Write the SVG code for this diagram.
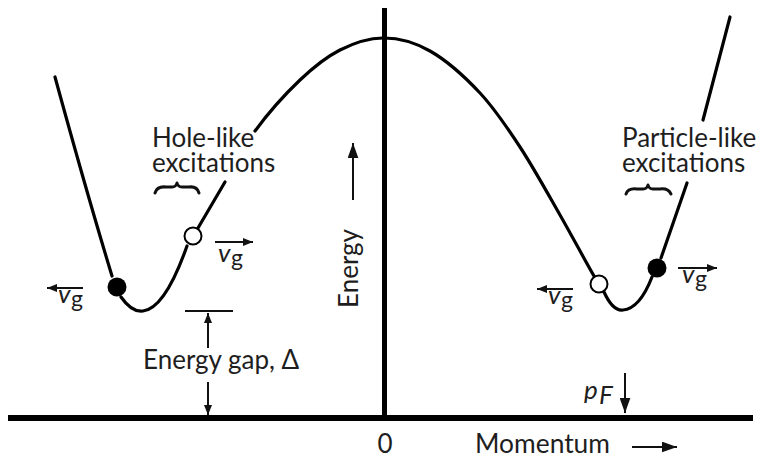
<svg xmlns="http://www.w3.org/2000/svg" width="761" height="459" viewBox="0 0 761 459">
<style>
.t{font-family:Lato,"Open Sans","DejaVu Sans",sans-serif;font-size:26px;fill:#1e1e1e}
.v{font-family:Lato,"Open Sans","DejaVu Sans",sans-serif;font-style:italic;font-size:26px;fill:#1e1e1e}
.g{font-family:Lato,"Open Sans","DejaVu Sans",sans-serif;font-size:23px;fill:#1e1e1e}
.c{fill:none;stroke:#000;stroke-width:3.2;stroke-linecap:round}
.a{fill:none;stroke:#111;stroke-width:2}
.b{fill:none;stroke:#111;stroke-width:3;stroke-linecap:round;stroke-linejoin:round}
</style>
<defs>
<marker id="ah" viewBox="0 0 10 8" refX="10" refY="4" markerWidth="11" markerHeight="8" markerUnits="userSpaceOnUse" orient="auto">
<path d="M0,0 L10,4 L0,8 Z" fill="#111"/>
</marker>
<marker id="ahL" viewBox="0 0 14 10" refX="14" refY="5" markerWidth="15" markerHeight="11" markerUnits="userSpaceOnUse" orient="auto">
<path d="M0,0 L14,5 L0,10 Z" fill="#111"/>
</marker>
</defs>
<rect width="761" height="459" fill="#fff"/>

<g id="axes">
<line x1="8" y1="418" x2="753" y2="418" stroke="#000" stroke-width="6"/>
<line x1="384.5" y1="8" x2="384.5" y2="418" stroke="#000" stroke-width="5"/>
</g>

<g id="curve">
<path class="c" d="M55,77 C75,150 95,220 112,276"/>
<path class="c" d="M121,297 C128,307 136,312 143,311 C160,309 175,280 187,246"/>
<path class="c" d="M198,228 L225,182"/>
<path class="c" d="M255,131 C267.5,114 285.8,93.5 300,80 C314.2,66.5 326.2,57 340,50 C353.8,43 368,38.2 383,38 C398,37.8 413.8,41.8 430,51 C446.2,60.2 465,77 480,93 C495,109 506.7,126.7 520,147 C533.3,167.3 547.7,193.5 560,215 C572.3,236.5 585.7,261.8 594,276"/>
<path class="c" d="M604,292 C610,305 616,311 623,310 C636,309 645,295 652,277"/>
<path class="c" d="M661,258 L687,183"/>
<path class="c" d="M703,120 L730,17"/>
</g>

<g id="dots">
<circle cx="117" cy="287" r="9.5" fill="#000"/>
<circle cx="193" cy="236" r="8.5" fill="#fff" stroke="#000" stroke-width="2"/>
<circle cx="599" cy="284" r="8.5" fill="#fff" stroke="#000" stroke-width="2"/>
<circle cx="657" cy="268" r="9.5" fill="#000"/>
</g>

<g id="hole-label">
<text class="t" x="152" y="147">Hole-like</text>
<text class="t" x="152" y="172">excitations</text>
<path class="b" d="M155,193 Q157,186 166,187 L172,187 Q176,187 177,183 Q178,187 182,187 L189,187 Q197,186 199,193"/>
</g>

<g id="particle-label">
<text class="t" x="622" y="147">Particle-like</text>
<text class="t" x="622" y="172">excitations</text>
<path class="b" d="M626,194 Q628,188 637,189 L643,189 Q647,189 648,185 Q649,189 653,189 L660,189 Q668,188 671,194"/>
</g>

<g id="vg-labels">
<line class="a" x1="83" y1="288" x2="47" y2="288" marker-end="url(#ah)"/>
<text class="v" x="58" y="303">v</text><text class="g" x="71" y="307">g</text>
<line class="a" x1="215" y1="242" x2="253" y2="242" marker-end="url(#ah)"/>
<text class="v" x="218" y="262">v</text><text class="g" x="231" y="266">g</text>
<line class="a" x1="573" y1="289" x2="537" y2="289" marker-end="url(#ah)"/>
<text class="v" x="548" y="304">v</text><text class="g" x="561" y="308">g</text>
<line class="a" x1="678" y1="268" x2="717" y2="268" marker-end="url(#ah)"/>
<text class="v" x="682" y="283">v</text><text class="g" x="695" y="287">g</text>
</g>

<g id="gap">
<line x1="185" y1="311" x2="233" y2="311" stroke="#111" stroke-width="2"/>
<line class="a" x1="208" y1="348" x2="208" y2="313" marker-end="url(#ah)"/>
<line class="a" x1="208" y1="382" x2="208" y2="415" marker-end="url(#ah)"/>
<text class="t" x="143" y="369" font-size="27">Energy gap, Δ</text>
</g>

<g id="energy-label">
<text class="t" transform="translate(358,308) rotate(-90)" font-size="27">Energy</text>
<line class="a" x1="353" y1="200" x2="353" y2="143" marker-end="url(#ahL)"/>
</g>

<g id="momentum-label">
<text class="t" x="385" y="453" text-anchor="middle" font-size="27">0</text>
<text class="t" x="475" y="453" font-size="27" textLength="135" lengthAdjust="spacingAndGlyphs">Momentum</text>
<line class="a" x1="632" y1="447" x2="677" y2="447" marker-end="url(#ahL)"/>
</g>

<g id="pF">
<text class="v" x="584" y="399" font-size="29">p</text>
<text class="v" x="599" y="404" font-size="17">F</text>
<line class="a" x1="625" y1="373" x2="625" y2="413" marker-end="url(#ahL)"/>
</g>
</svg>
